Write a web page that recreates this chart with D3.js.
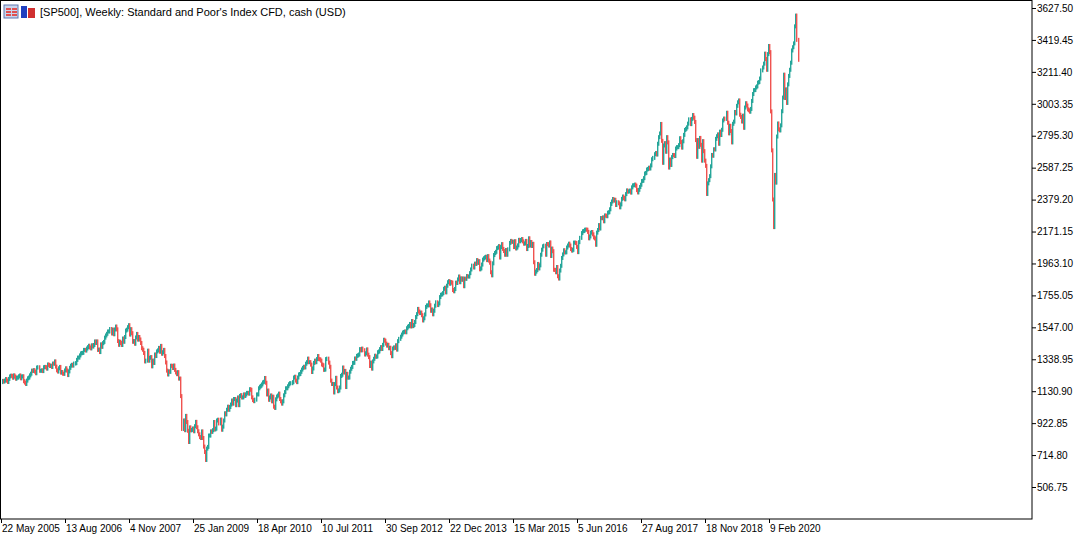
<!DOCTYPE html>
<html><head><meta charset="utf-8">
<script src="https://cdn.jsdelivr.net/npm/d3@7/dist/d3.min.js"></script>
<style>body{margin:0;background:#fff;}svg{display:block;font-family:"Liberation Sans",Arial,sans-serif;}</style>
</head><body>
<svg id="c" width="1078" height="539"></svg>
<script>
// Weekly closes, SP500 CFD, from 22 May 2005
const closes2005=[1198,1194,1200,1210,1200,1191,1211,1227,1232,1231,1219,1234,1226,1212,1219,1220,1228,1233,1215,1227,1228,1196,1187,1178,1200,1215,1220,1234,1245,1265,1263,1268,1259,1248];
const closes2006=[1285,1287,1264,1264,1267,1262,1287,1289,1287,1278,1305,1302,1295,1297,1289,1311,1310,1325,1291,1267,1259,1280,1289,1252,1256,1245,1244,1266,1280,1266,1236,1260,1283,1297,1303,1298,1311,1314,1335,1350,1350,1364,1377,1380,1381,1400,1400,1396,1409,1418,1427,1416];
const closes2007=[1410,1430,1422,1432,1455,1445,1455,1400,1402,1386,1436,1420,1444,1452,1480,1494,1505,1520,1520,1536,1507,1532,1502,1533,1552,1534,1458,1433,1453,1445,1432,1474,1453,1484,1526,1532,1548,1561,1500,1535,1509,1453,1458,1440,1481,1504,1467,1484,1468,1445,1411,1401];
const closes2008=[1380,1325,1330,1395,1330,1349,1353,1293,1330,1315,1370,1360,1390,1397,1413,1388,1426,1375,1385,1400,1360,1318,1265,1240,1260,1257,1297,1296,1282,1298,1270,1253,1242,1255,1213,1213,1099,885,940,877,970,930,873,800,895,876,879,888,870,903,931,896];
const closes2009=[870,850,832,826,869,826,770,735,683,757,768,842,842,869,866,877,930,882,887,940,945,921,946,880,900,940,987,980,1010,1030,1010,1028,1044,1070,1050,1080,1080,1040,1070,1090,1040,1100,1105,1090,1091,1110,1100,1110,1120,1120,1115];
const closes2010=[1144,1140,1091,1073,1066,1076,1110,1110,1150,1160,1166,1175,1188,1192,1217,1186,1110,1135,1075,1090,1103,1065,1095,1030,1022,1078,1096,1103,1115,1080,1065,1050,1065,1104,1125,1150,1150,1163,1176,1183,1183,1190,1220,1225,1200,1190,1220,1240,1243,1257];
const closes2011=[1272,1283,1290,1286,1310,1320,1343,1320,1320,1304,1256,1279,1315,1330,1320,1340,1360,1340,1338,1330,1305,1300,1270,1272,1340,1343,1317,1290,1200,1178,1178,1123,1177,1218,1155,1131,1136,1155,1230,1238,1285,1253,1263,1158,1244,1219,1220,1258];
const closes2012=[1277,1289,1315,1316,1344,1342,1361,1365,1370,1405,1397,1408,1398,1370,1378,1403,1369,1353,1295,1317,1278,1325,1342,1362,1355,1357,1385,1390,1405,1418,1406,1433,1466,1460,1441,1428,1433,1411,1414,1379,1359,1409,1416,1413,1430,1402];
const closes2013=[1457,1472,1486,1500,1513,1517,1520,1515,1541,1551,1556,1569,1553,1588,1555,1562,1582,1614,1633,1667,1650,1640,1643,1626,1592,1606,1631,1680,1690,1690,1709,1691,1655,1663,1632,1655,1688,1710,1692,1703,1744,1759,1762,1770,1798,1805,1775,1818,1841,1848];
const closes2014=[1831,1842,1838,1790,1782,1797,1838,1836,1859,1878,1841,1866,1857,1865,1815,1864,1863,1881,1878,1878,1900,1924,1949,1937,1962,1960,1985,1967,1978,1925,1931,1956,1988,1997,2003,2007,1985,2011,1982,1968,1906,1886,1964,2018,2031,2039,2063,2067,2076,2002,2070,2089];
const closes2015=[2058,2044,2020,2051,2020,2055,2097,2110,2104,2105,2070,2108,2061,2067,2081,2117,2108,2116,2122,2107,2092,2094,2110,2057,2077,2127,2080,2103,2077,2091,1971,1896,1910,1920,1960,1931,1951,2020,2053,2075,2079,2020,2090,2089,2080,2100,2012,2060,2043];
const closes2016=[1922,1921,1906,1940,1880,1865,1917,1948,1999,2022,2049,2035,2036,2067,2080,2092,2080,2057,2047,2052,2099,2099,2096,2071,2037,2102,2130,2161,2173,2175,2183,2184,2183,2169,2127,2139,2164,2168,2153,2133,2126,2085,2164,2181,2213,2191,2259,2258,2263,2238];
const closes2017=[2276,2274,2271,2294,2297,2316,2351,2367,2383,2373,2378,2344,2362,2355,2329,2348,2384,2399,2390,2381,2415,2439,2431,2433,2438,2425,2459,2472,2473,2477,2470,2441,2426,2443,2461,2476,2500,2502,2519,2549,2553,2575,2579,2587,2582,2602,2642,2651,2675,2683,2673];
const closes2018=[2743,2786,2810,2872,2762,2619,2732,2747,2691,2786,2752,2588,2640,2605,2656,2670,2669,2663,2712,2721,2721,2734,2779,2754,2718,2759,2801,2833,2840,2850,2874,2902,2871,2905,2930,2913,2885,2767,2658,2767,2723,2781,2736,2633,2760,2695,2633,2599,2416,2485,2506];
const closes2019=[2532,2596,2670,2665,2707,2706,2775,2792,2804,2743,2822,2800,2834,2895,2907,2905,2945,2880,2811,2860,2826,2752,2873,2887,2950,2941,2990,3013,3025,2932,2918,2888,2926,2847,2979,3007,2992,2967,2961,2952,2970,3022,3067,3092,3093,3110,3117,3141,3145,3168,3221,3240];
const closes2020=[3265,3330,3295,3225,3327,3380,3340,2954,2700,2380,2200,2540,2490,2790,2875,2837,2830,2863,2955,3044,3193,3041,3097,3009,3130,3185,3225,3271,3351,3372,3397,3508,3578,3420,3290];
const firstOpen=1190;
const yTicks=[3627.50,3419.45,3211.40,3003.35,2795.30,2587.25,2379.20,2171.15,1963.10,1755.05,1547.00,1338.95,1130.90,922.85,714.80,506.75];
const xLabels=["22 May 2005","13 Aug 2006","4 Nov 2007","25 Jan 2009","18 Apr 2010","10 Jul 2011","30 Sep 2012","22 Dec 2013","15 Mar 2015","5 Jun 2016","27 Aug 2017","18 Nov 2018","9 Feb 2020"];
const title="[SP500], Weekly:  Standard and Poor's Index CFD, cash (USD)";

const closes=[].concat(closes2005,closes2006,closes2007,closes2008,closes2009,closes2010,closes2011,closes2012,closes2013,closes2014,closes2015,closes2016,closes2017,closes2018,closes2019,closes2020);
const bars=closes.map((c,i)=>({o:i?closes[i-1]:firstOpen,c}));
const svg=d3.select("#c");
const W=1032,H=519;
const FONT="'Liberation Sans',Arial,sans-serif";
const y=d3.scaleLinear().domain([506.75,3627.5]).range([487,8]);
const x=d3.scaleLinear().domain([0,bars.length-1]).range([1.5,797.5]);
const xl=d3.scaleLinear().domain([0,1]).range([1,65]);
const up="#26a69a",dn="#ef5350";
svg.append("g").selectAll("rect").data(bars).join("rect")
 .attr("x",(d,i)=>Math.round(x(i)))
 .attr("width",1.4)
 .attr("y",d=>y(Math.max(d.o,d.c))-2)
 .attr("height",d=>Math.abs(y(d.o)-y(d.c))+4)
 .attr("fill",d=>d.c>=d.o?up:dn);
svg.append("rect").attr("x",0.5).attr("y",0.5).attr("width",W-0.5).attr("height",H-0.5).attr("fill","none").attr("stroke","#000");
const ya=svg.append("g").attr("transform",`translate(${W},0)`)
 .call(d3.axisRight(y).tickValues(yTicks).tickFormat(d3.format(".2f")).tickSize(4).tickPadding(1));
ya.select(".domain").remove();
ya.selectAll("text").attr("font-size",10).attr("fill","#000").attr("font-family",FONT);
ya.selectAll("line").attr("stroke","#000");
const xg=svg.append("g");
xLabels.forEach((t,k)=>{
 const px=Math.round(xl(k));
 xg.append("line").attr("x1",px+0.5).attr("x2",px+0.5).attr("y1",H).attr("y2",H+4).attr("stroke","#000");
 xg.append("text").attr("x",px+1).attr("y",H+13).attr("font-size",10).attr("font-family",FONT).text(t);
});
// header icons
svg.append("rect").attr("x",4).attr("y",5).attr("width",14).attr("height",13).attr("fill","#c8d4ec").attr("stroke","#6078b0");
[8,11,14].forEach(yy=>{svg.append("rect").attr("x",6).attr("y",yy).attr("width",5).attr("height",2).attr("fill","#e05050");svg.append("rect").attr("x",12).attr("y",yy).attr("width",5).attr("height",2).attr("fill","#e05050");});
svg.append("rect").attr("x",21).attr("y",6).attr("width",6).attr("height",12).attr("fill","#2040c0");
svg.append("rect").attr("x",28).attr("y",8).attr("width",7).attr("height",10).attr("fill","#d03030");
svg.append("text").attr("x",40).attr("y",16).attr("font-size",11).attr("font-family",FONT).text(title);
</script>
</body></html>
